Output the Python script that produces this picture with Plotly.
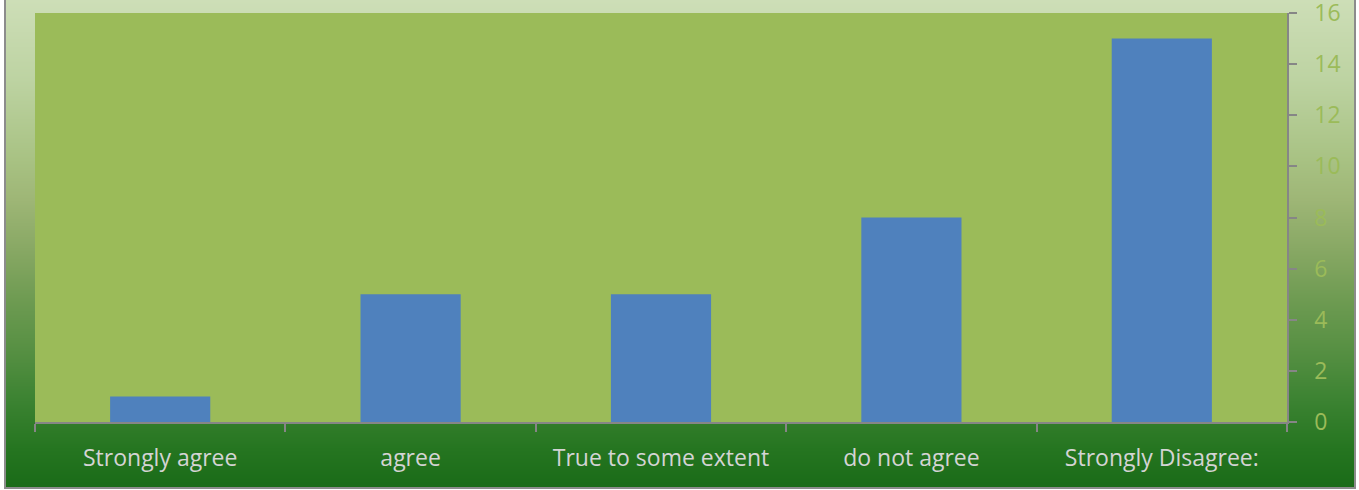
import base64, struct, zlib
import plotly.graph_objects as go

categories = ["Strongly agree", "agree", "True to some extent", "do not agree", "Strongly Disagree:"]
values = [1, 5, 5, 8, 15]
y_ticks = [0, 2, 4, 6, 8, 10, 12, 14, 16]

W, H = 1359, 490
ML, MR, MT, MB = 35, 72, 13, 68
PW, PH = W - ML - MR, H - MT - MB

def px_x(p):
    return (p - ML) / PW

def px_y(p):
    return (H - MB - p) / PH

# vertical background gradient (style only)
stops = [(0, (205, 222, 183)), (80, (189, 211, 162)), (160, (168, 194, 131)),
         (200, (158, 182, 118)), (250, (136, 168, 100)), (300, (110, 155, 82)),
         (350, (87, 144, 67)), (400, (60, 131, 50)), (450, (37, 117, 32)),
         (488, (26, 107, 24))]
rows = []
for r in range(489):
    for i in range(len(stops) - 1):
        a, ca = stops[i]
        b, cb = stops[i + 1]
        if a <= r <= b:
            t = (r - a) / (b - a)
            c = tuple(int(round(ca[k] + (cb[k] - ca[k]) * t)) for k in range(3))
            break
    rows.append(b"\x00" + bytes(c))
raw = b"".join(rows)

def chunk(tag, data):
    return struct.pack(">I", len(data)) + tag + data + struct.pack(">I", zlib.crc32(tag + data) & 0xffffffff)

png = b"\x89PNG\r\n\x1a\n" + chunk(b"IHDR", struct.pack(">IIBBBBB", 1, 489, 8, 2, 0, 0, 0)) \
    + chunk(b"IDAT", zlib.compress(raw)) + chunk(b"IEND", b"")
uri = "data:image/png;base64," + base64.b64encode(png).decode()

fig = go.Figure()
fig.add_trace(go.Bar(x=categories, y=values, marker=dict(color="#4F81BD", line=dict(width=0)),
                     hoverinfo="x+y"))

fig.update_layout(
    width=W, height=H,
    margin=dict(l=ML, r=MR, t=MT, b=MB, pad=0, autoexpand=False),
    paper_bgcolor="white",
    plot_bgcolor="#9BBB59",
    bargap=0.6,
    showlegend=False,
    font=dict(family="Open Sans", size=23),
    images=[dict(source=uri, xref="paper", yref="paper",
                 x=px_x(5), y=px_y(0), sizex=px_x(1355) - px_x(5), sizey=px_y(0) - px_y(488),
                 sizing="stretch", layer="below", xanchor="left", yanchor="top")],
    shapes=[
        dict(type="rect", xref="paper", yref="paper", x0=0, x1=1, y0=0, y1=1,
             fillcolor="#9BBB59", line=dict(width=0), layer="below"),
        dict(type="rect", xref="paper", yref="paper", x0=px_x(5), x1=px_x(1355),
             y0=px_y(488), y1=px_y(-10), line=dict(color="#8C8C8C", width=2), layer="above"),
    ],
    xaxis=dict(
        type="category", tickson="boundaries", ticks="outside", ticklen=8, tickwidth=1.5,
        tickcolor="#868686", showline=True, linecolor="#868686", linewidth=1.5,
        showgrid=False, zeroline=False, tickfont=dict(color="#D4D4D4", size=23, family="Open Sans"),
        ticklabelstandoff=15, automargin=False,
    ),
    yaxis=dict(
        side="right", range=[0, 16], tickvals=y_ticks, ticks="outside", ticklen=8, tickwidth=1.5,
        tickcolor="#868686", showline=True, linecolor="#868686", linewidth=1.5,
        showgrid=False, zeroline=False, tickfont=dict(color="#9BBB59", size=23, family="Open Sans"),
        ticklabelstandoff=13, ticklabeloverflow="allow", automargin=False,
    ),
)

fig.write_html("out.html", config={"displayModeBar": False},
               post_script="document.body.style.margin='0';document.body.style.overflow='hidden';")
